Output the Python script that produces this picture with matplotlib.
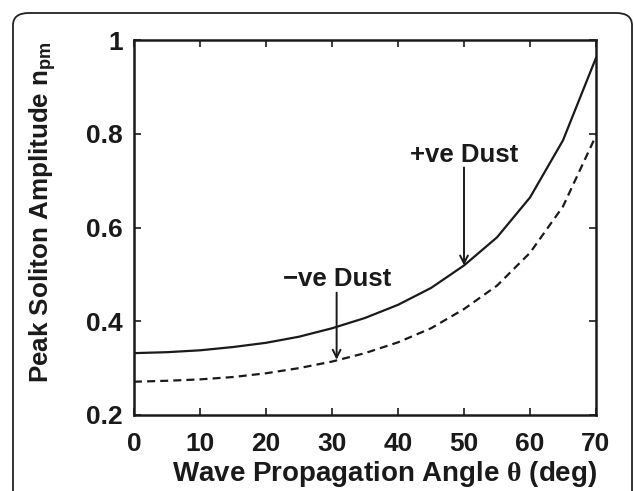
import matplotlib
matplotlib.use("Agg")
import matplotlib.pyplot as plt
from matplotlib.patches import FancyBboxPatch

theta = [0, 5, 10, 15, 20, 25, 30, 35, 40, 45, 50, 55, 60, 65, 70]
pos_dust = [0.332, 0.334, 0.338, 0.345, 0.354, 0.367, 0.385, 0.407, 0.435,
            0.471, 0.519, 0.579, 0.664, 0.786, 0.962]
neg_dust = [0.271, 0.273, 0.276, 0.281, 0.289, 0.300, 0.314, 0.332, 0.355,
            0.385, 0.426, 0.476, 0.546, 0.645, 0.796]
xticks = [0, 10, 20, 30, 40, 50, 60, 70]
yticks = [0.2, 0.4, 0.6, 0.8, 1.0]
ytick_labels = ["0.2", "0.4", "0.6", "0.8", "1"]

plt.rcParams['font.family'] = ['Liberation Sans', 'DejaVu Sans']
plt.rcParams['font.weight'] = 'bold'
plt.rcParams['mathtext.fontset'] = 'custom'
plt.rcParams['mathtext.rm'] = 'Liberation Sans:bold'
plt.rcParams['mathtext.it'] = 'Liberation Serif'
plt.rcParams['mathtext.bf'] = 'Liberation Sans:bold'

W, H = 634, 491
fig = plt.figure(figsize=(W / 100, H / 100), dpi=100)

# rounded frame around figure
frame = FancyBboxPatch((13 / W, -0.2), (632 - 13) / W, 1.2 - 13 / H,
                       boxstyle="round,pad=0,rounding_size=0.025",
                       transform=fig.transFigure, fill=False,
                       edgecolor='#222222', linewidth=1.3, clip_on=False)
fig.patches.append(frame)

left, right, top, bottom = 134 / W, 596 / W, 1 - 40 / H, 1 - 415 / H
ax = fig.add_axes([left, bottom, right - left, top - bottom])

ink = '#1a1a1a'
ax.plot(theta, pos_dust, color=ink, linewidth=1.6)
ax.plot(theta, neg_dust, color=ink, linewidth=1.6, linestyle=(0, (3.6, 2.3)))

ax.set_xlim(0, 70)
ax.set_ylim(0.2, 1.0)
ax.set_xticks(xticks)
ax.set_xticklabels([str(t) for t in xticks])
ax.set_yticks(yticks)
ax.set_yticklabels(ytick_labels)
ax.tick_params(direction='in', length=5, width=1.2, top=True, right=True,
               labelsize=19, colors=ink)
ax.tick_params(axis='x', pad=12)
ax.tick_params(axis='y', pad=8)
for sp in ax.spines.values():
    sp.set_linewidth(1.8)
    sp.set_color(ink)

ax.set_xlabel(r'Wave Propagation Angle $\theta$ (deg)', fontsize=20,
              fontweight='bold', color=ink)
ax.set_ylabel(r'Peak Soliton Amplitude n$_{\mathregular{pm}}$', fontsize=18.7,
              fontweight='bold', color=ink)
ax.xaxis.set_label_coords(0.543, -0.117)
ax.yaxis.set_label_coords(-0.163, 0.541)

arrowprops = dict(arrowstyle='->', color=ink, lw=1.4,
                  mutation_scale=14, shrinkA=0, shrinkB=0)
ax.text(50, 0.739, '+ve Dust', ha='center', va='baseline', fontsize=18.5,
        fontweight='bold', color=ink)
ax.annotate('', xy=(50, 0.519), xytext=(50, 0.728), arrowprops=arrowprops)
ax.text(30.8, 0.476, '\u2212ve Dust', ha='center', va='baseline', fontsize=18.5,
        fontweight='bold', color=ink)
ax.annotate('', xy=(30.7, 0.318), xytext=(30.7, 0.461), arrowprops=arrowprops)

fig.savefig('out.png', dpi=100)
